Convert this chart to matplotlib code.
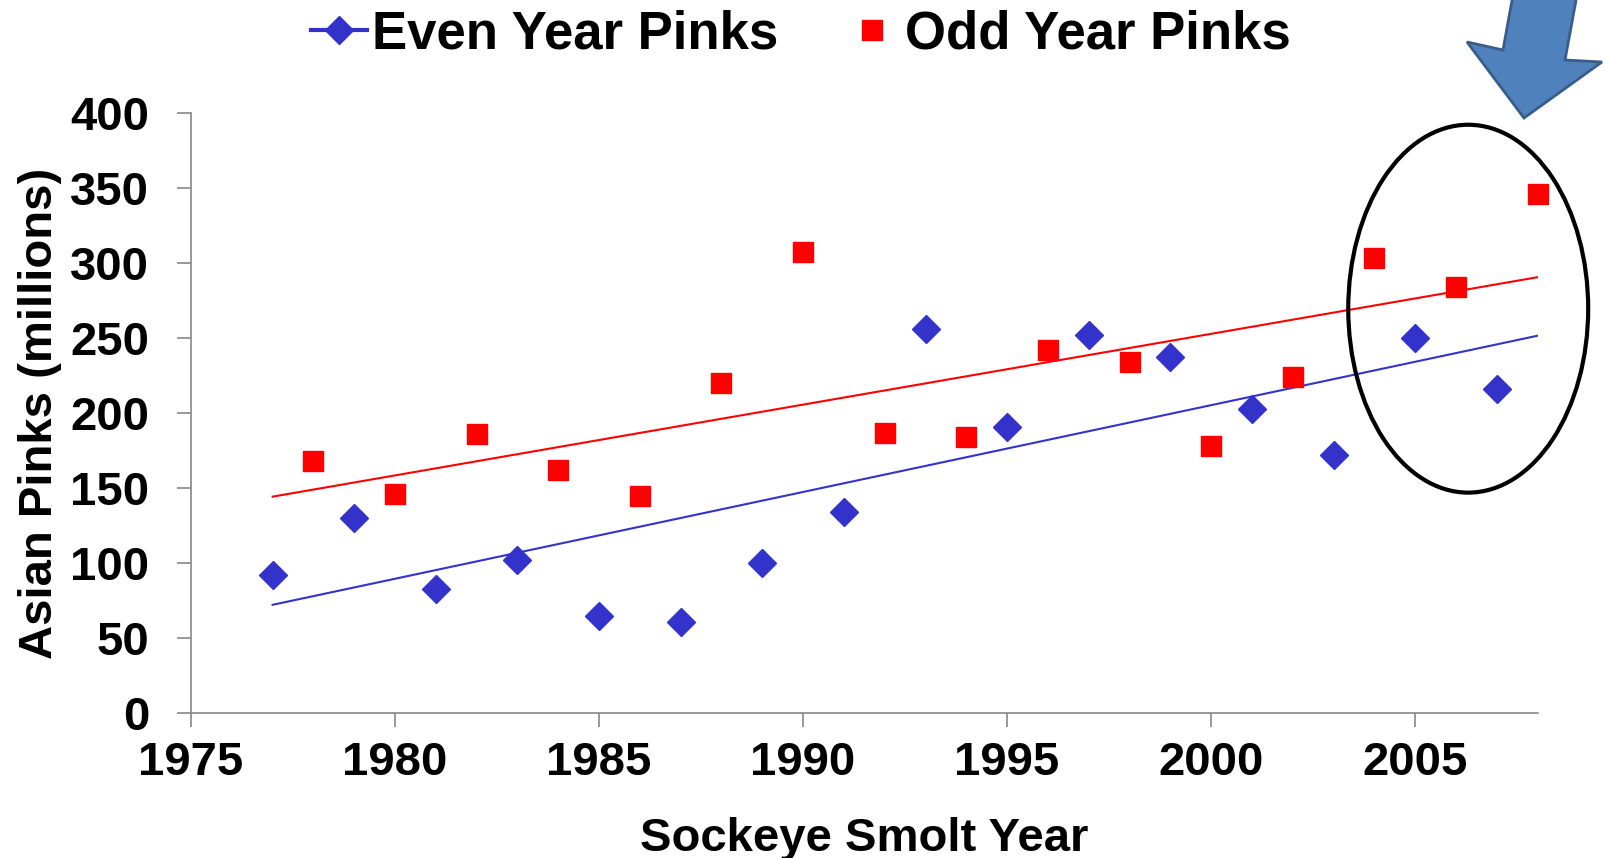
import numpy as np
import matplotlib.pyplot as plt
from matplotlib.lines import Line2D
from matplotlib.patches import Ellipse, Polygon

plt.rcParams['font.family'] = ['Liberation Sans', 'DejaVu Sans']
plt.rcParams['font.weight'] = 'bold'

# Asian pink salmon abundance (millions) by sockeye smolt year
even_years = [1977, 1979, 1981, 1983, 1985, 1987, 1989, 1991,
              1993, 1995, 1997, 1999, 2001, 2003, 2005, 2007]
even_pinks = [92, 130, 83, 102, 65, 61, 100, 134,
              256, 191, 252, 237, 203, 172, 250, 216]

odd_years = [1978, 1980, 1982, 1984, 1986, 1988, 1990, 1992,
             1994, 1996, 1998, 2000, 2002, 2004, 2006, 2008]
odd_pinks = [168, 146, 186, 162, 145, 220, 307, 187,
             184, 242, 234, 178, 224, 303, 284, 346]

BLUE = '#3333CC'
RED = '#FF0000'
GREY = '#868686'

fig = plt.figure(figsize=(16.05, 8.58), dpi=100)
ax = fig.add_axes([0.119, 0.1686, 0.839, 0.700])

ax.plot(even_years, even_pinks, linestyle='none', marker='D', ms=14,
        color=BLUE, zorder=3, clip_on=False)
ax.plot(odd_years, odd_pinks, linestyle='none', marker='s', ms=14.4,
        color=RED, zorder=3, clip_on=False)

# linear trend lines, both drawn over the full span of years
span = np.array([1977, 2008])
b = np.polyfit(even_years, even_pinks, 1)
ax.plot(span, np.polyval(b, span), color=BLUE, lw=1.5, zorder=2)
r = np.polyfit(odd_years, odd_pinks, 1)
ax.plot(span, np.polyval(r, span), color=RED, lw=1.5, zorder=2)

ax.set_xlim(1975, 2008)
ax.set_ylim(0, 400)
ax.set_xticks(np.arange(1975, 2006, 5))
ax.set_yticks(np.arange(0, 401, 50))

for s in ['top', 'right']:
    ax.spines[s].set_visible(False)
for s in ['left', 'bottom']:
    ax.spines[s].set_color(GREY)
    ax.spines[s].set_linewidth(1.2)
ax.tick_params(axis='both', direction='out', length=10, width=1.2,
               color=GREY, labelsize=34)
ax.tick_params(axis='x', pad=10)
ax.tick_params(axis='y', pad=20)

ax.set_xlabel('Sockeye Smolt Year', fontsize=34, fontweight='bold', labelpad=23)
ax.set_ylabel('Asian Pinks (millions)', fontsize=34, fontweight='bold', labelpad=6)

# highlight of the most recent years
ax.add_patch(Ellipse((2006.3, 269.5), 5.88, 245, fill=False, ec='black',
                     lw=3, clip_on=False, zorder=4))

# big pointer arrow in the top-right corner (pixel positions, y from top)
W, H = 1605, 858
arrow_px = [(1524, 118), (1467, 42), (1503, 50), (1513, -5),
            (1577, -5), (1565, 60), (1602, 62)]
arrow = Polygon([(x / W, 1 - y / H) for x, y in arrow_px], closed=True,
                transform=fig.transFigure, fc='#4F81BD', ec='#385D8A',
                lw=2, zorder=5)
fig.patches.append(arrow)

handles = [Line2D([], [], color=BLUE, marker='D', ms=14, lw=3),
           Line2D([], [], color=RED, marker='s', ms=14.4, lw=0)]
fig.legend(handles, ['Even Year Pinks', 'Odd Year Pinks'], loc='center',
           bbox_to_anchor=(0.499, 0.960), ncol=2, frameon=False,
           prop={'size': 38, 'weight': 'bold'}, handlelength=1.05,
           handletextpad=0.1, columnspacing=1.25)

fig.savefig('out.png', dpi=100)
